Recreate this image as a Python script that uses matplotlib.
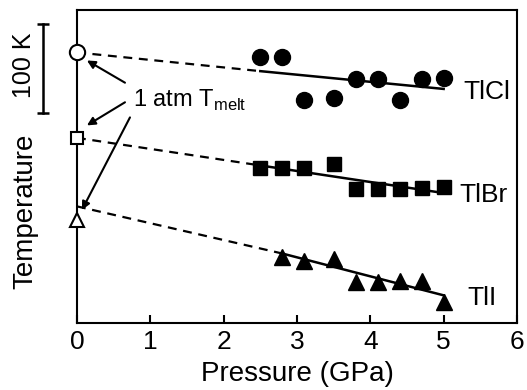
import matplotlib
matplotlib.use("Agg")
import matplotlib.pyplot as plt
import matplotlib.transforms as mtransforms

plt.rcParams['font.family'] = ['Liberation Sans', 'DejaVu Sans']

# pressure (GPa) / temperature (K, arbitrary offset)
p_cl = [2.5, 2.8, 3.1, 3.5, 3.8, 4.1, 4.4, 4.7, 5.0]
t_cl = [299, 299, 251, 253, 274, 274, 251, 274, 275]
p_br = [2.5, 2.8, 3.1, 3.5, 3.8, 4.1, 4.4, 4.7, 5.0]
t_br = [174, 174, 174, 179, 151, 151, 151, 152, 153]
p_i = [2.8, 3.1, 3.5, 3.8, 4.1, 4.4, 4.7, 5.0]
t_i = [74, 70, 72, 46, 46, 47, 47, 24]

# 1 atm melting points (open symbols at P = 0)
melt_t = [304, 208, 116]

# fit lines: [P0, P_start_solid, P_end], [T...]
fit_cl = ([0, 2.5, 5.0], [304, 283, 263])
fit_br = ([0, 2.5, 5.0], [208, 177, 146])
fit_i = ([0, 2.8, 5.0], [131, 78, 31])

labels = ['TlCl', 'TlBr', 'TlI']
label_pos = [(5.27, 260), (5.22, 144), (5.32, 28)]

fig = plt.figure(figsize=(5.27, 3.9), dpi=100)
ax = fig.add_axes([0.146, 0.172, 0.835, 0.803])

fs = 19
for fit in [fit_cl, fit_br, fit_i]:
    px, ty = fit
    ax.plot(px[:2], ty[:2], color='black', lw=1.6, ls=(0, (4, 3)))
    ax.plot(px[1:], ty[1:], color='black', lw=1.8)

ax.plot(p_cl, t_cl, 'o', color='black', ms=11.5, ls='none')
ax.plot(p_br, t_br, 's', color='black', ms=9.5, ls='none')
ax.plot(p_i, t_i, '^', color='black', ms=11, ls='none')

ax.plot([0], [melt_t[0]], 'o', mfc='white', mec='black', mew=1.5, ms=11, clip_on=False, zorder=5)
ax.plot([0], [melt_t[1]], 's', mfc='white', mec='black', mew=1.5, ms=9, clip_on=False, zorder=5)
ax.plot([0], [melt_t[2]], '^', mfc='white', mec='black', mew=1.5, ms=10.5, clip_on=False, zorder=5)

for lab, (x, y) in zip(labels, label_pos):
    ax.text(x, y, lab, fontsize=fs, ha='left', va='center')

# annotation with arrows to the open symbols
ax.text(0.76, 250, '1 atm T$_{\\mathregular{melt}}$', fontsize=17, ha='left', va='center')
arr = dict(arrowstyle='-|>', color='black', lw=1.5, mutation_scale=12, shrinkA=0, shrinkB=0)
ax.annotate('', xy=(0.136, 295), xytext=(0.655, 270), arrowprops=arr)
ax.annotate('', xy=(0.136, 222), xytext=(0.655, 248), arrowprops=arr)
ax.annotate('', xy=(0.068, 127), xytext=(0.723, 231), arrowprops=arr)

# 100 K scale bar
trans = mtransforms.blended_transform_factory(ax.transAxes, ax.transData)
ax.plot([-0.077, -0.077], [236, 336], color='black', lw=1.8, transform=trans, clip_on=False)
ax.plot([-0.077, -0.077], [236, 336], '_', color='black', ms=9, mew=1.8, transform=trans, clip_on=False)
ax.text(-0.12, 290, '100 K', rotation=90, fontsize=18, ha='center', va='center', transform=trans)

ax.set_xlim(0, 6)
ax.set_ylim(0, 352)
ax.set_xticks([0, 1, 2, 3, 4, 5, 6])
ax.set_yticks([])
ax.tick_params(axis='x', direction='in', length=6, width=1.5, labelsize=fs, pad=5)
for s in ax.spines.values():
    s.set_linewidth(1.5)
ax.set_xlabel('Pressure (GPa)', fontsize=20, labelpad=5)
ax.set_ylabel('Temperature', fontsize=20)
ax.yaxis.set_label_coords(-0.087, 0.355)

fig.savefig('out.png', dpi=100)
